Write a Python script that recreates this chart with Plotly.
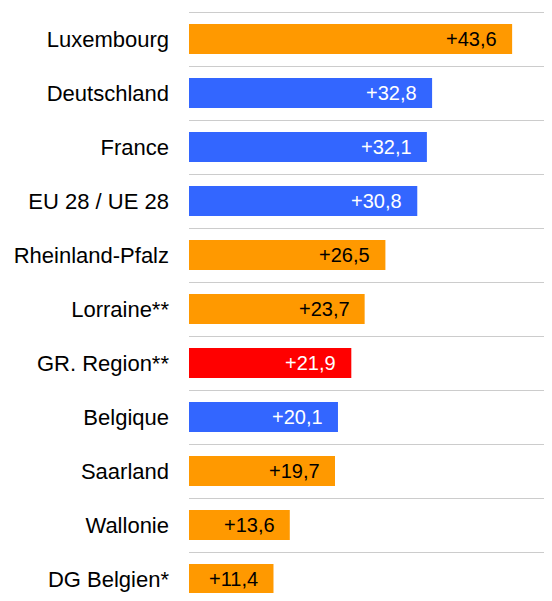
import plotly.graph_objects as go

categories = ["Luxembourg", "Deutschland", "France", "EU 28 / UE 28", "Rheinland-Pfalz",
              "Lorraine**", "GR. Region**", "Belgique", "Saarland", "Wallonie", "DG Belgien*"]
values = [43.6, 32.8, 32.1, 30.8, 26.5, 23.7, 21.9, 20.1, 19.7, 13.6, 11.4]
groups = ["region", "country", "country", "country", "region", "region", "greater",
          "country", "region", "region", "region"]

bar_colors = {"region": "#FF9900", "country": "#3366FF", "greater": "#FF0000"}
text_colors = {"region": "#000000", "country": "#FFFFFF", "greater": "#FFFFFF"}

labels = ["+" + f"{v:.1f}".replace(".", ",") for v in values]

fig = go.Figure()
fig.add_trace(go.Bar(
    x=values, y=categories, orientation="h",
    marker=dict(color=[bar_colors[g] for g in groups], line=dict(width=0)),
    hoverinfo="skip",
))

for c, v, g, t in zip(categories, values, groups, labels):
    fig.add_annotation(x=v, y=c, text=t, showarrow=False, xanchor="right",
                       xshift=-13, font=dict(family="Liberation Sans, Arial", size=20,
                                             color=text_colors[g]))

fig.update_layout(
    width=536, height=585,
    margin=dict(l=181, r=0, t=0, b=0),
    plot_bgcolor="white", paper_bgcolor="white",
    bargap=0.444,
    showlegend=False,
    font=dict(family="Liberation Sans, Arial", size=22, color="#000000"),
    xaxis=dict(range=[0, 47.9], showgrid=False, showticklabels=False, zeroline=False,
               showline=False, ticks=""),
    yaxis=dict(categoryorder="array", categoryarray=categories, range=[10.259, -0.574],
               tickson="boundaries", showgrid=True, gridcolor="#CCCCCC", gridwidth=1,
               ticks="", ticklabelstandoff=19, showline=False, zeroline=False),
)

fig.write_html("out.html")
